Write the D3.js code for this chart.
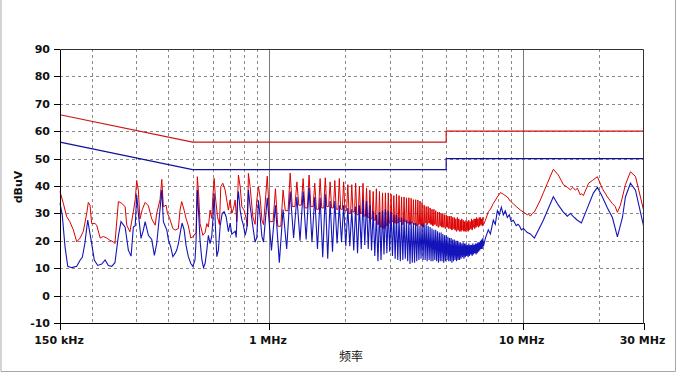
<!DOCTYPE html>
<html>
<head>
<meta charset="utf-8">
<script src="https://cdn.jsdelivr.net/npm/d3@7"></script>
<style>
  body { margin: 0; background: #fff; }
  svg { display: block; }
  .tick-label { font-family: "DejaVu Sans", Verdana, sans-serif; font-size: 11px; font-weight: bold; fill: #111; }
</style>
</head>
<body>
<div id="chart"></div>
<script>
// Limit lines (MHz, dBuV)
var limitQP = [[0.15, 66], [0.5, 56], [5, 56], [5, 60], [30, 60]];
var limitAV = [[0.15, 56], [0.5, 46], [5, 46], [5, 50], [30, 50]];

// Axis ticks
var yTicks = [-10, 0, 10, 20, 30, 40, 50, 60, 70, 80, 90];
var xLabels = [[0.15, '150 kHz'], [1, '1 MHz'], [10, '10 MHz'], [30, '30 MHz']];
var xGrid = [0.2, 0.3, 0.4, 0.5, 0.6, 0.7, 0.8, 0.9, 2, 3, 4, 5, 6, 7, 8, 9, 20];
var xMajor = [1, 10];

// Sweep below 1 MHz (MHz, dBuV)
var redLow = [[0.150,38],[0.1546,33.7],[0.1594,28.8],[0.164,27],[0.1693,24],[0.1746,19.6],[0.180,21],[0.1854,23.5],
  [0.1912,30],[0.194,34],[0.197,33],[0.200,26.3],[0.206,26.3],[0.2093,25.7],[0.216,21],[0.2223,21.6],[0.2293,21],
  [0.236,20.2],[0.2435,19.6],[0.247,19],[0.2549,34.3],[0.2628,33.7],[0.271,32.4],[0.275,25.7],[0.283,23.3],
  [0.292,30.6],[0.297,35],[0.301,42],[0.3055,38.5],[0.310,28],[0.3169,31.5],[0.325,34],[0.3347,32.8],[0.345,28],
  [0.356,25.7],[0.361,30],[0.372,35],[0.378,42.4],[0.3835,32.4],[0.393,33],[0.398,30],[0.405,28.5],[0.418,24.5],
  [0.4266,23.9],[0.4395,24.5],[0.446,31.2],[0.453,34.3],[0.463,31.2],[0.471,28.2],[0.481,25.5],[0.492,21],
  [0.5036,21.6],[0.516,23],[0.522,43.4],[0.529,36],[0.535,26.3],[0.549,22],[0.560,23],[0.569,26.3],[0.577,25],
  [0.586,31.2],[0.595,28.2],[0.601,36],[0.608,42.8],[0.615,36],[0.627,28.8],[0.638,25.9],[0.646,39.8],[0.658,41],
  [0.672,38.5],[0.692,31.2],[0.703,34.9],[0.714,30],[0.725,31.8],[0.736,34.9],[0.747,27],[0.758,44],[0.770,39.8],
  [0.782,32.4],[0.798,31.2],[0.813,28.2],[0.823,25.3],[0.830,44.6],[0.843,39.8],[0.864,28.8],[0.882,26],
  [0.896,34.9],[0.909,39.8],[0.923,36],[0.938,27.6],[0.952,25.9]];

var blueLow = [[0.150,33.7],[0.1531,29.4],[0.157,17.8],[0.1609,10.7],[0.1669,10.2],[0.1746,10.7],[0.180,12.9],
  [0.1837,14],[0.188,19],[0.1929,27.6],[0.1958,24],[0.200,19],[0.2048,13],[0.2113,11],[0.2191,11.5],[0.226,13],
  [0.2327,11],[0.240,10.7],[0.247,12],[0.2549,21.8],[0.261,27],[0.271,25],[0.279,16.6],[0.286,14.4],[0.292,25],
  [0.297,25.5],[0.301,36.7],[0.3055,30],[0.313,20.9],[0.320,24],[0.325,27],[0.3347,22],[0.345,20.5],[0.3534,14.7],
  [0.361,19],[0.3687,27.6],[0.378,38.5],[0.3835,27],[0.390,25.3],[0.3956,24],[0.4015,20.3],[0.410,17.8],
  [0.418,14.2],[0.4266,15.4],[0.433,16.6],[0.4395,19],[0.449,24],[0.4546,26.5],[0.463,24],[0.471,18.4],
  [0.481,14.2],[0.492,11.7],[0.501,10.7],[0.511,12.9],[0.516,20],[0.522,38.5],[0.529,29],[0.535,20],[0.544,13],
  [0.552,10.2],[0.560,11.7],[0.569,16.6],[0.577,22],[0.586,19],[0.595,21.6],[0.601,27.6],[0.608,37.3],[0.615,25.3],
  [0.623,14.2],[0.632,16.6],[0.642,25.3],[0.654,30],[0.666,30.6],[0.678,28.8],[0.692,23.3],[0.703,26.5],
  [0.714,22.4],[0.725,23],[0.736,23.5],[0.743,21.2],[0.752,34.8],[0.758,38],[0.770,31.2],[0.782,27.6],
  [0.793,25.7],[0.806,22],[0.818,24.5],[0.830,38.5],[0.843,32.6],[0.864,25.3],[0.882,19.5],[0.896,21.2],
  [0.909,34.8],[0.923,29],[0.938,21.6],[0.952,19.5]];

// Harmonic comb 1 - 7 MHz: spike frequencies (MHz) and levels read per spike
var combFreq = [0.985,1.061,1.137,1.213,1.289,1.364,1.440,1.516,1.592,1.668,1.743,1.819,1.895,1.971,
  2.047,2.122,2.198,2.274,2.350,2.426,2.501,2.577,2.653,2.729,2.805,2.880,2.956,3.032,3.108,3.184,3.259,3.335,
  3.411,3.487,3.563,3.638,3.714,3.790,3.866,3.942,4.017,4.093,4.169,4.245,4.321,4.396,4.472,4.548,4.624,4.700,
  4.775,4.851,4.927,5.003,5.079,5.154,5.230,5.306,5.382,5.458,5.533,5.609,5.685,5.761,5.837,5.912,5.988,6.064,
  6.140,6.216,6.291,6.367,6.443,6.519,6.595,6.670,6.746,6.822,6.898,6.974];
var combRedPeak = [43.6,39,38.5,44.7,41.5,42.7,44,41,42.7,43,41.5,42,42.7,41.5,
  40.5,40.5,41,40,41,39.3,38.5,38,39,38,37.5,37.5,37.5,37,36.5,37,36.5,36,36,35.7,35.7,35.5,35,35,34.9,34.5,34,
  33,32.5,32.5,32,31.5,31.5,31,30.5,30.5,30,30,29.5,29.5,29,29,29,28.5,28.5,28,28.5,28,27.5,28,27.5,27,27.5,27,
  27.5,27,28,27.5,28,28,28.5,28,28.5,28.5,28,28.5];
var combRedFloor = [27,25.3,31,32.5,33,32,32.5,31.5,32,32.5,32,31.5,31.5,31,
  30,30.5,29.5,30,29,28.5,28,27.5,26,25,24.5,25.5,26.5,27,26.5,26.5,27,26,27,26.5,26,26.5,26,25.5,26,25.5,25,
  26.5,26,26.5,26,25.5,26,25.5,25,25.5,25,25,24.5,25,24.5,24.5,24,24.5,24,23.5,24,23.5,23.5,24,23.5,23.5,24,
  23.5,24,24.5,24,25,24.5,25,25.5,25,25.5,26,25.5,26];
var combBluePeak = [35.7,33,31.4,38,36,38,39.3,36,35.7,37,34.5,34.5,33,33,
  32,31.5,32.5,33,35,34.5,33,31,29.5,30.5,31,31.5,31,30.5,29.5,29.5,28.5,28.5,28,27.5,27,27,26.5,26.5,26,25.5,26,
  26.5,26,25.5,25,24.5,24,24,23.5,23,23,22.5,22,22,21.5,21,21,20.5,20.5,20,20,19.5,19.5,19,19.5,19,19,18.5,19,
  18.5,18.5,19,18.5,19,19,19.5,19.5,20,20.5,21];
var combBlueFloor = [16.5,12,17,21,20,20.5,19.5,17,14,13.5,16,19,19.5,18,
  18,16.5,15.5,17,18.5,17,16.5,14.5,12.5,13,15,15.5,16,14.5,13.5,13,12.5,13,13.5,12.5,11.5,12,12,12.5,13,13.5,13,
  13,12.5,13,12.5,12.5,13,12.5,12,12.5,12.5,12,12.5,13,12.5,12.5,12,12.5,13,12.5,13,13,13.5,14,13.5,14,14.5,14,
  14.5,15,14.5,15,15.5,15,15.5,16,16.5,17,17,18];

// Sweep above 7 MHz (MHz, dBuV)
var redHigh = [[7.14,27.5],[7.33,30.6],[7.47,31.5],[7.67,33.6],[7.96,36],[8.18,37.6],[8.40,37],[8.71,36],
  [8.95,34.5],[9.20,33.5],[9.45,32.5],[9.81,31.2],[10.08,30.5],[10.45,29.5],[10.55,29.8],[10.74,29],[10.93,30],
  [11.14,30.5],[11.76,34.9],[12.08,37.5],[12.53,41],[13.23,46.1],[13.85,44],[14.49,40.5],[15.03,39.5],
  [15.44,38.6],[15.8,39.5],[16.16,38.5],[16.46,39.2],[16.91,36.7],[17.07,37.2],[17.38,36.5],[18.03,40],
  [18.19,41],[18.86,42],[19.74,43.4],[20.66,39],[21.62,36],[22.62,33.6],[23.20,32.5],[23.67,30.4],[24.33,33],
  [25.46,40.5],[26.65,45.2],[27.89,43.5],[29.18,36],[30,31.2]];
var blueHigh = [[7.14,21],[7.33,24],[7.47,22.5],[7.67,27.5],[7.81,26],[7.96,31],[8.10,29.5],[8.25,32.3],
  [8.40,29.5],[8.55,31],[8.71,28.5],[8.87,29.5],[9.03,27],[9.20,27.5],[9.45,25.5],[9.60,26],[9.72,25.5],
  [9.90,24],[10.08,24.5],[10.45,23],[10.74,22.5],[11.14,21],[12.08,27.5],[13.23,36.1],[13.85,33],[14.49,30.5],
  [15.03,29],[15.44,30],[16.01,28.5],[16.46,27.5],[17.07,26.5],[18.03,32],[19.03,37.4],[19.74,39.5],[20.66,36],
  [21.62,32],[22.62,28.5],[23.67,21.4],[24.78,28.5],[25.46,36],[26.65,41],[27.89,38.5],[29.18,30.5],[30,25.5]];


function combPoints(peaks, floors, flat) {
  var pts = [];
  combFreq.forEach(function(f, i) {
    var next = i < combFreq.length - 1 ? combFreq[i + 1] : f + (f - combFreq[i - 1]);
    var step = next - f;
    pts.push([f, peaks[i]]);
    if (flat) {
      pts.push([f + step * 0.3, floors[i]]);
      pts.push([f + step * 0.7, floors[i]]);
    } else {
      pts.push([f + step * 0.5, floors[i]]);
    }
  });
  return pts;
}

function drawChart() {
  var width = 677, height = 374;
  var svg = d3.select('#chart').append('svg')
    .attr('width', width)
    .attr('height', height);

  var x = d3.scaleLog().domain([0.15, 30]).range([60, 643.5]);
  var y = d3.scaleLinear().domain([-10, 90]).range([323, 49]);

  // Window border
  svg.append('path')
    .attr('d', 'M1,0 V371.5 H675.5 V0')
    .attr('fill', 'none')
    .attr('stroke', '#a8a8a8');

  // Grid
  var grid = svg.append('g');
  grid.selectAll('.hgrid').data(yTicks.filter(function(d) { return d > -10 && d < 90; }))
    .enter().append('line')
    .attr('x1', x(0.15)).attr('x2', x(30))
    .attr('y1', function(d) { return Math.round(y(d)) + 0.5; })
    .attr('y2', function(d) { return Math.round(y(d)) + 0.5; })
    .attr('stroke', '#8a8a8a')
    .attr('stroke-dasharray', '3,3');
  grid.selectAll('.vgrid').data(xGrid).enter().append('line')
    .attr('x1', function(d) { return Math.round(x(d)) + 0.5; })
    .attr('x2', function(d) { return Math.round(x(d)) + 0.5; })
    .attr('y1', y(90)).attr('y2', y(-10))
    .attr('stroke', '#8a8a8a')
    .attr('stroke-dasharray', '3,3');
  grid.selectAll('.vmajor').data(xMajor).enter().append('line')
    .attr('x1', function(d) { return Math.round(x(d)) + 0.5; })
    .attr('x2', function(d) { return Math.round(x(d)) + 0.5; })
    .attr('y1', y(90)).attr('y2', y(-10))
    .attr('stroke', '#7a7a7a');

  var line = d3.line()
    .x(function(d) { return x(d[0]); })
    .y(function(d) { return y(d[1]); });

  // Limit lines
  svg.append('path').datum(limitQP)
    .attr('d', line).attr('fill', 'none')
    .attr('stroke', '#cc1515').attr('stroke-width', 1.2);
  svg.append('path').datum(limitAV)
    .attr('d', line).attr('fill', 'none')
    .attr('stroke', '#10109a').attr('stroke-width', 1.2);

  // Measured traces
  var redData = redLow.concat(combPoints(combRedPeak, combRedFloor, true), redHigh);
  var blueData = blueLow.concat(combPoints(combBluePeak, combBlueFloor, false), blueHigh);

  svg.append('path').datum(redData)
    .attr('d', line).attr('fill', 'none')
    .attr('stroke', '#dd0000').attr('stroke-width', 1);
  svg.append('path').datum(blueData)
    .attr('d', line).attr('fill', 'none')
    .attr('stroke', '#0000b4').attr('stroke-opacity', 0.92).attr('stroke-width', 1.1);

  // Frame
  svg.append('path')
    .attr('d', 'M60.5,49.5 H643.5 V323.5')
    .attr('fill', 'none').attr('stroke', '#333');
  svg.append('path')
    .attr('d', 'M60.5,49.5 V323.5 H643.5')
    .attr('fill', 'none').attr('stroke', '#000');

  // Y ticks and labels
  var yg = svg.append('g');
  yg.selectAll('line').data(yTicks).enter().append('line')
    .attr('x1', 54).attr('x2', 60)
    .attr('y1', function(d) { return Math.round(y(d)) + 0.5; })
    .attr('y2', function(d) { return Math.round(y(d)) + 0.5; })
    .attr('stroke', '#000');
  yg.selectAll('text').data(yTicks).enter().append('text')
    .classed('tick-label', true)
    .attr('x', 50)
    .attr('y', function(d) { return y(d) + 4; })
    .attr('text-anchor', 'end')
    .text(function(d) { return d; });

  // X ticks and labels
  var xg = svg.append('g');
  xg.selectAll('line').data(xLabels).enter().append('line')
    .attr('x1', function(d) { return Math.round(x(d[0])) + 0.5; })
    .attr('x2', function(d) { return Math.round(x(d[0])) + 0.5; })
    .attr('y1', 323).attr('y2', 330)
    .attr('stroke', '#000');
  xg.selectAll('text').data(xLabels).enter().append('text')
    .classed('tick-label', true)
    .attr('x', function(d) { return x(d[0]) - 1; })
    .attr('y', 344)
    .attr('text-anchor', 'middle')
    .text(function(d) { return d[1]; });

  // Axis titles
  svg.append('text')
    .classed('tick-label', true)
    .attr('transform', 'translate(22,187) rotate(-90)')
    .attr('text-anchor', 'middle')
    .text('dBuV');
  svg.append('text')
    .attr('x', 351)
    .attr('y', 361)
    .attr('text-anchor', 'middle')
    .style('font-family', '"Noto Sans CJK SC", sans-serif')
    .style('font-size', '12px')
    .style('fill', '#111')
    .text('频率');
}

drawChart();
</script>
</body>
</html>
